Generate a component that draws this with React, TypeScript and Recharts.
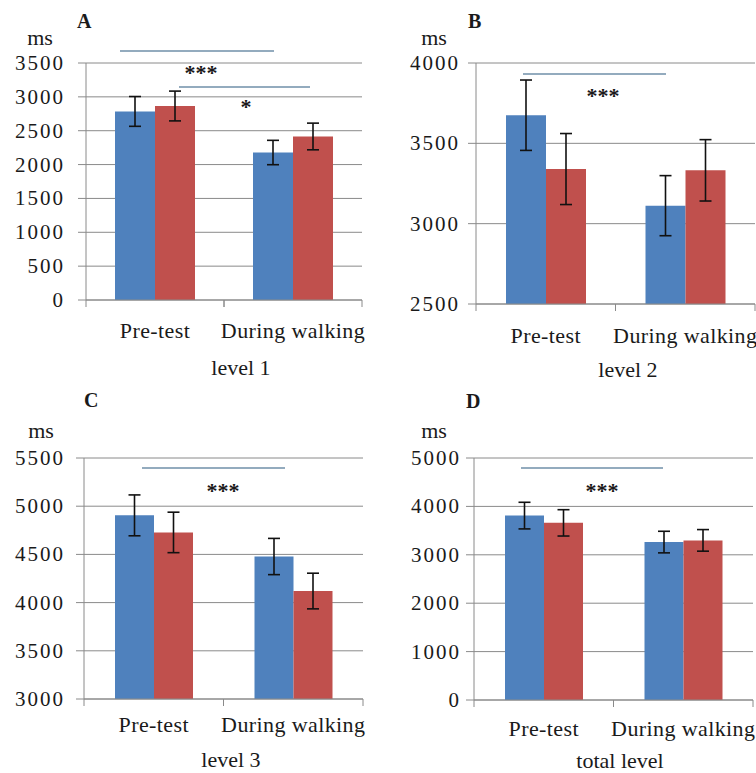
import { BarChart, Bar, XAxis, YAxis, CartesianGrid, ErrorBar } from "recharts";

const categories = ["Pre-test", "During walking"];

// level 1
const level1Blue = [2785, 2178];
const level1BlueSe = [220, 180];
const level1Red = [2865, 2415];
const level1RedSe = [220, 197];

// level 2
const level2Blue = [3675, 3112];
const level2BlueSe = [219, 187];
const level2Red = [3340, 3332];
const level2RedSe = [221, 191];

// level 3
const level3Blue = [4905, 4478];
const level3BlueSe = [212, 188];
const level3Red = [4728, 4120];
const level3RedSe = [210, 185];

// total level
const totalBlue = [3810, 3263];
const totalBlueSe = [275, 223];
const totalRed = [3660, 3298];
const totalRedSe = [272, 223];

const ticksA = [0, 500, 1000, 1500, 2000, 2500, 3000, 3500];
const ticksB = [2500, 3000, 3500, 4000];
const ticksC = [3000, 3500, 4000, 4500, 5000, 5500];
const ticksD = [0, 1000, 2000, 3000, 4000, 5000];

const BLUE = "#4F81BD";
const RED = "#C0504D";
const GRID = "#8a8a8a";
const INK = "#1a1a1a";
const SIG = "#6f8fa8";
const FONT = "Liberation Serif";
const Y_AXIS_W = 70;

function buildRows(blue: number[], blueSe: number[], red: number[], redSe: number[]) {
  return categories.map((cat, i) => ({
    cat,
    blue: blue[i],
    blueSe: blueSe[i],
    red: red[i],
    redSe: redSe[i],
  }));
}

function XTick(props: any) {
  const { x, y, payload, band, dy } = props;
  return (
    <g>
      <line x1={x - band / 2} x2={x - band / 2} y1={y} y2={y + 7} stroke={GRID} />
      <line x1={x + band / 2} x2={x + band / 2} y1={y} y2={y + 7} stroke={GRID} />
      <text x={x} y={y + dy} textAnchor="middle" fontSize={22} fontFamily={FONT} fill={INK} letterSpacing={0.4}>
        {payload.value}
      </text>
    </g>
  );
}

function YTick(props: any) {
  const { x, y, payload } = props;
  return (
    <text x={x} y={y} dy={7} textAnchor="end" fontSize={21} fontFamily={FONT} fill={INK} letterSpacing={2}>
      {payload.value}
    </text>
  );
}

interface PanelProps {
  left: number;
  top: number;
  width: number;
  height: number;
  margin: { top: number; right: number; bottom: number; left: number };
  rows: any[];
  domain: [number, number];
  ticks: number[];
  tickMargin: number;
  gap: number;
  labelDy: number;
}

function Panel({ left, top, width, height, margin, rows, domain, ticks, tickMargin, gap, labelDy }: PanelProps) {
  const band = (width - margin.left - margin.right - Y_AXIS_W) / 2;
  return (
    <div style={{ position: "absolute", left, top }}>
      <BarChart width={width} height={height} data={rows} margin={margin} barCategoryGap={gap} barGap={0}>
        <CartesianGrid vertical={false} stroke={GRID} />
        <XAxis
          dataKey="cat"
          height={50}
          interval={0}
          tickSize={0}
          tickMargin={0}
          tickLine={false}
          axisLine={{ stroke: GRID }}
          tick={(p: any) => <XTick {...p} band={band} dy={labelDy} />}
        />
        <YAxis
          width={Y_AXIS_W}
          domain={domain}
          ticks={ticks}
          interval={0}
          tickSize={8}
          tickMargin={tickMargin - 2}
          tickLine={{ stroke: GRID }}
          axisLine={{ stroke: GRID }}
          tick={(p: any) => <YTick {...p} />}
        />
        <Bar dataKey="blue" fill={BLUE} isAnimationActive={false}>
          <ErrorBar dataKey="blueSe" width={6} stroke="#111" strokeWidth={1.6} direction="y" />
        </Bar>
        <Bar dataKey="red" fill={RED} isAnimationActive={false}>
          <ErrorBar dataKey="redSe" width={6} stroke="#111" strokeWidth={1.6} direction="y" />
        </Bar>
      </BarChart>
    </div>
  );
}

export default function App() {
  const txt = { fontFamily: FONT, fill: INK };
  return (
    <div style={{ position: "absolute", left: 0, top: 0, width: 756, height: 773, background: "#fff", fontFamily: FONT }}>
      <Panel
        left={0}
        top={0}
        width={378}
        height={380}
        margin={{ top: 63, right: 16, bottom: 30, left: 16 }}
        rows={buildRows(level1Blue, level1BlueSe, level1Red, level1RedSe)}
        domain={[0, 3500]}
        ticks={ticksA}
        tickMargin={15}
        gap={29}
        labelDy={38}
      />
      <Panel
        left={378}
        top={0}
        width={378}
        height={380}
        margin={{ top: 63, right: 1, bottom: 26, left: 28 }}
        rows={buildRows(level2Blue, level2BlueSe, level2Red, level2RedSe)}
        domain={[2500, 4000]}
        ticks={ticksB}
        tickMargin={10}
        gap={30}
        labelDy={39}
      />
      <Panel
        left={0}
        top={380}
        width={378}
        height={393}
        margin={{ top: 78, right: 15, bottom: 24, left: 14 }}
        rows={buildRows(level3Blue, level3BlueSe, level3Red, level3RedSe)}
        domain={[3000, 5500]}
        ticks={ticksC}
        tickMargin={13}
        gap={31}
        labelDy={33}
      />
      <Panel
        left={378}
        top={380}
        width={378}
        height={393}
        margin={{ top: 78, right: 3, bottom: 23, left: 26 }}
        rows={buildRows(totalBlue, totalBlueSe, totalRed, totalRedSe)}
        domain={[0, 5000]}
        ticks={ticksD}
        tickMargin={7}
        gap={31}
        labelDy={36}
      />

      {/* panel titles, units, group labels and significance marks */}
      <svg width={756} height={773} style={{ position: "absolute", left: 0, top: 0, pointerEvents: "none" }}>
        <text x={77} y={28} fontSize={20} fontWeight="bold" {...txt}>A</text>
        <text x={468} y={28} fontSize={20} fontWeight="bold" {...txt}>B</text>
        <text x={84} y={407} fontSize={20} fontWeight="bold" {...txt}>C</text>
        <text x={466} y={408} fontSize={20} fontWeight="bold" {...txt}>D</text>

        <text x={40} y={45} fontSize={22} textAnchor="middle" {...txt}>ms</text>
        <text x={434} y={45} fontSize={22} textAnchor="middle" {...txt}>ms</text>
        <text x={41} y={438} fontSize={22} textAnchor="middle" {...txt}>ms</text>
        <text x={434} y={438} fontSize={22} textAnchor="middle" {...txt}>ms</text>

        <text x={241} y={375} fontSize={22} textAnchor="middle" {...txt}>level 1</text>
        <text x={628} y={377} fontSize={22} textAnchor="middle" {...txt}>level 2</text>
        <text x={231} y={767} fontSize={22} textAnchor="middle" {...txt}>level 3</text>
        <text x={620} y={768} fontSize={22} textAnchor="middle" {...txt}>total level</text>

        <line x1={120} x2={274} y1={51} y2={51} stroke={SIG} strokeWidth={1.5} />
        <text x={201} y={80} fontSize={22} fontWeight="bold" textAnchor="middle" {...txt}>***</text>
        <line x1={179} x2={310} y1={87} y2={87} stroke={SIG} strokeWidth={1.5} />
        <text x={246} y={114} fontSize={22} fontWeight="bold" textAnchor="middle" {...txt}>*</text>

        <line x1={523} x2={666} y1={74} y2={74} stroke={SIG} strokeWidth={1.5} />
        <text x={603} y={103} fontSize={22} fontWeight="bold" textAnchor="middle" {...txt}>***</text>

        <line x1={142} x2={285} y1={468} y2={468} stroke={SIG} strokeWidth={1.5} />
        <text x={223} y={498} fontSize={22} fontWeight="bold" textAnchor="middle" {...txt}>***</text>

        <line x1={521} x2={663} y1={468} y2={468} stroke={SIG} strokeWidth={1.5} />
        <text x={602} y={498} fontSize={22} fontWeight="bold" textAnchor="middle" {...txt}>***</text>
      </svg>
    </div>
  );
}
